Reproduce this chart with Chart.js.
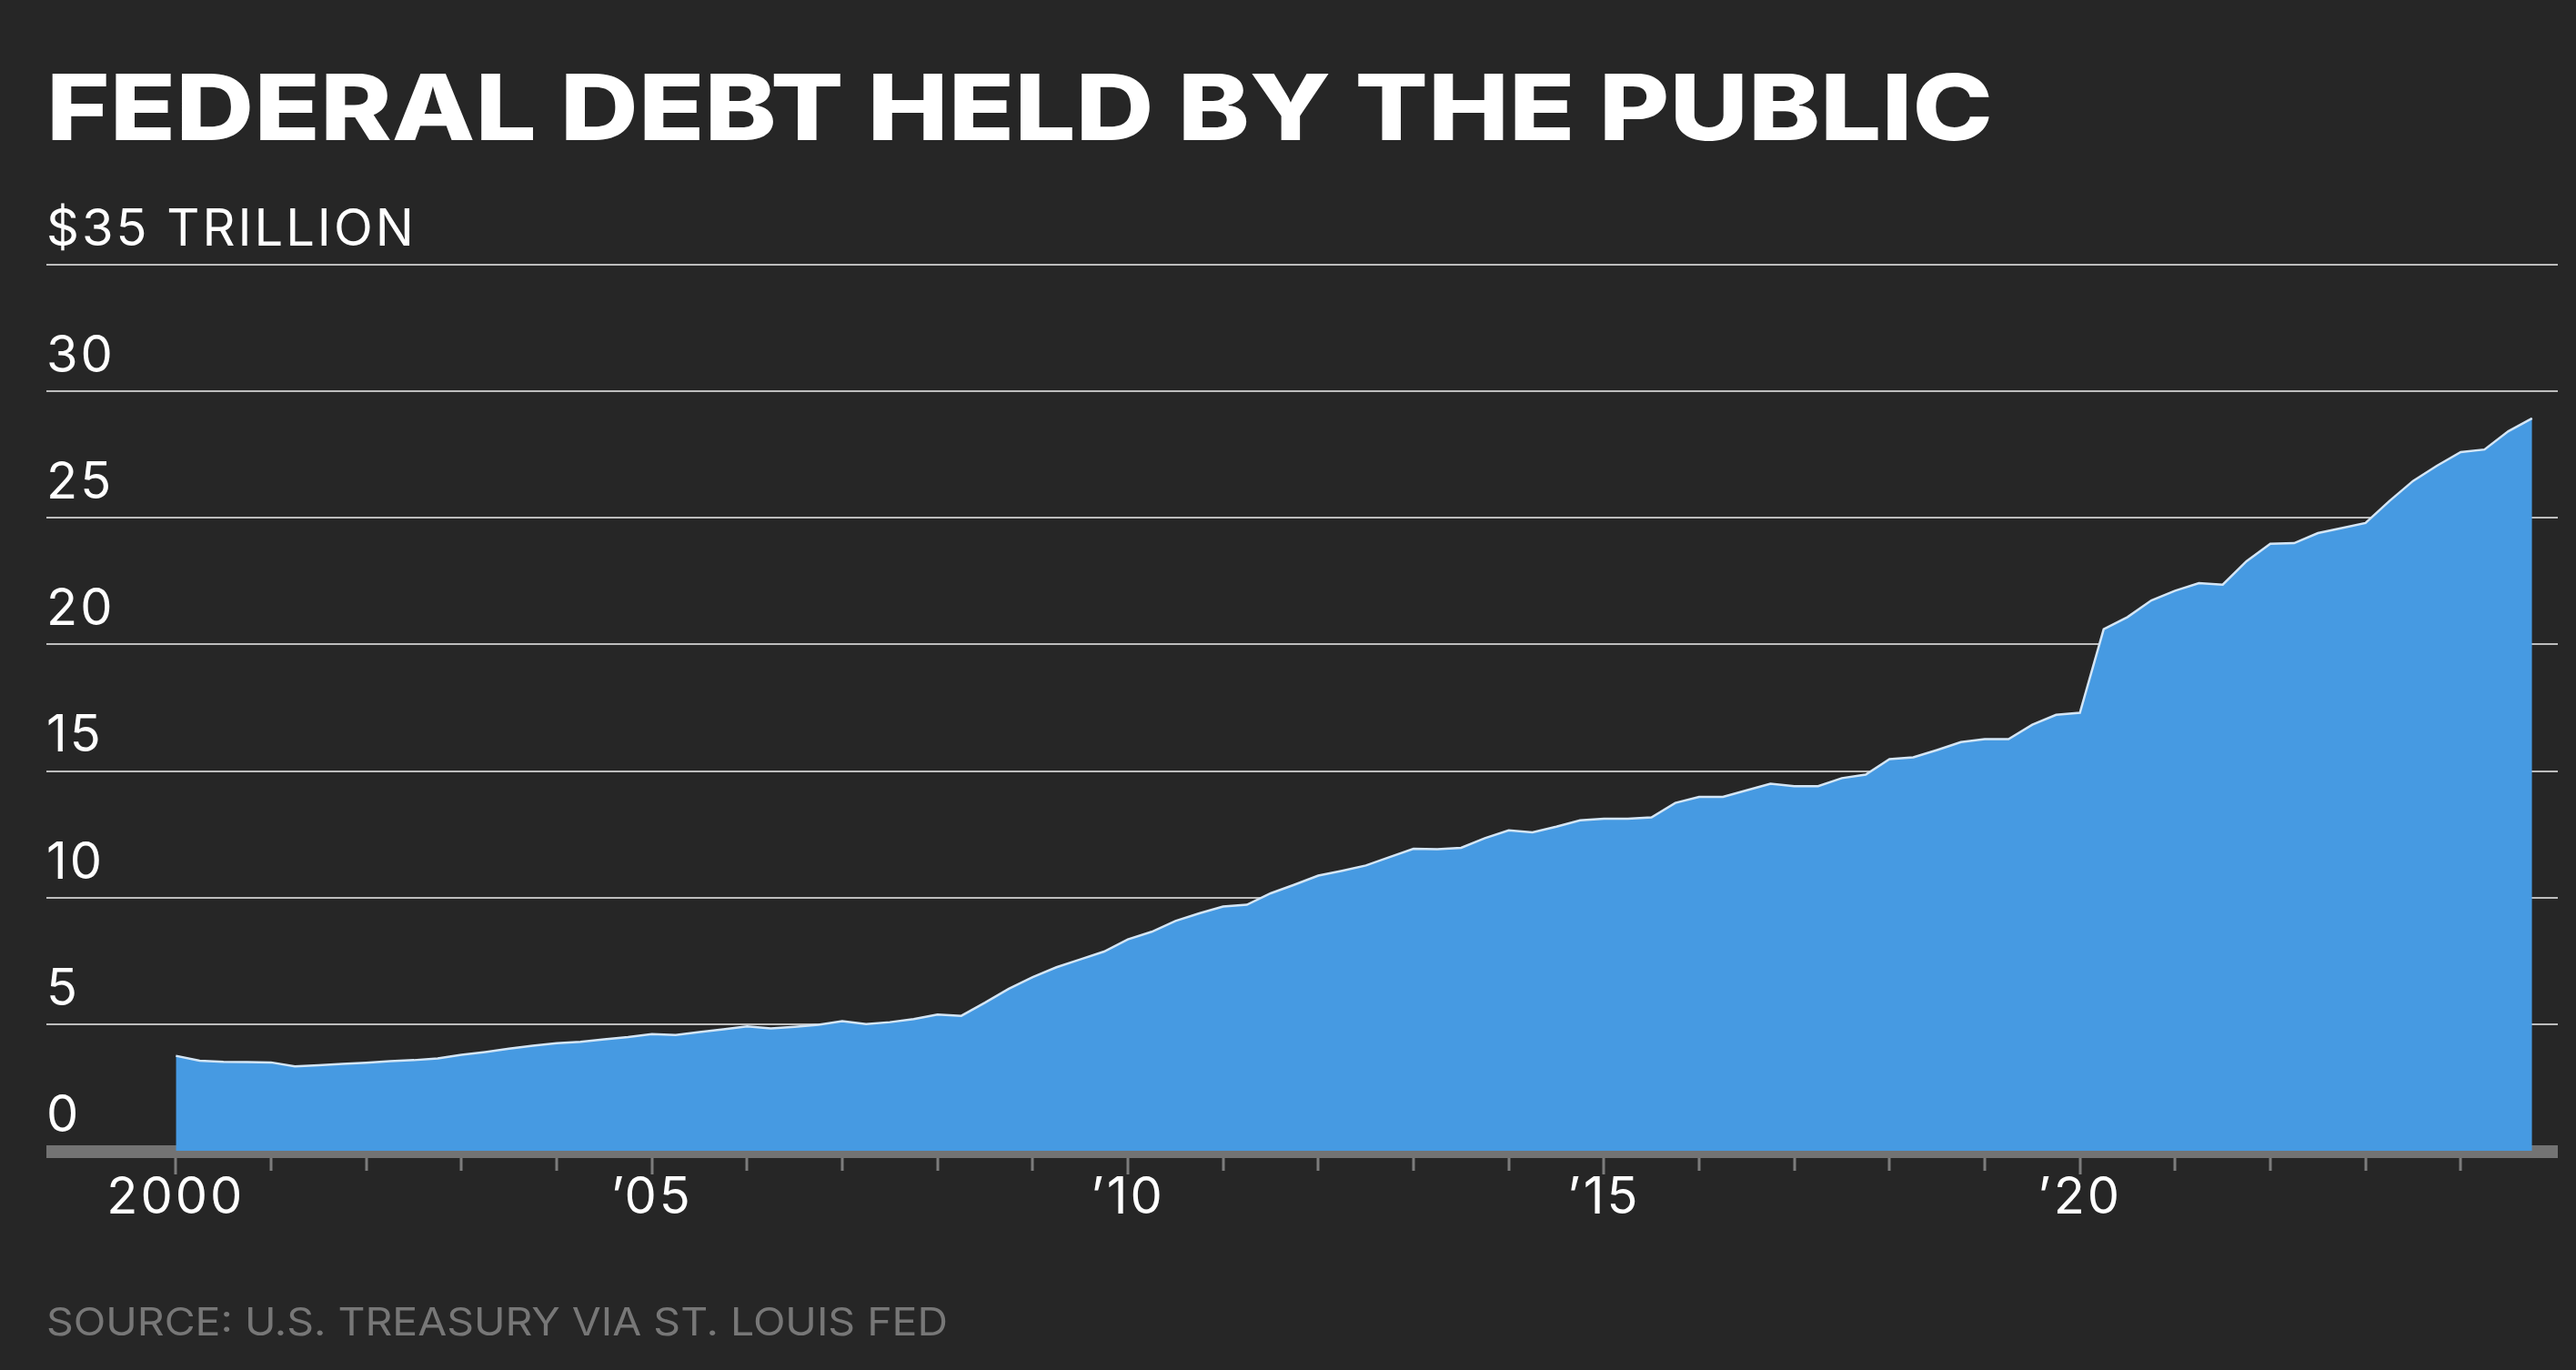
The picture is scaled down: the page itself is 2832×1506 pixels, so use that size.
<!DOCTYPE html>
<html>
<head>
<meta charset="utf-8">
<script src="https://cdn.jsdelivr.net/npm/chart.js@4.4.1/dist/chart.umd.min.js"></script>
<style>
    html, body { margin: 0; padding: 0; background: #262626; width: 2832px; height: 1506px; overflow: hidden; }
    #wrap { position: relative; width: 2832px; height: 1506px; }
    canvas { position: absolute; left: 0; top: 0; }
    .title { position: absolute; left: 51px; top: 68px; font-family: Inter, sans-serif; font-weight: 800; font-size: 100px; line-height: 1; color: #fff; white-space: nowrap; transform-origin: left top; }
    .source { position: absolute; left: 51px; top: 1432px; font-family: Inter, sans-serif; font-weight: 400; font-size: 42px; line-height: 1; color: #777; white-space: nowrap; transform-origin: left top; }
</style>
</head>
<body>
<div id="wrap">
    <canvas id="debtChart" width="2832" height="1506"></canvas>
    <div class="title" id="title">FEDERAL DEBT HELD BY THE PUBLIC</div>
    <div class="source" id="source">SOURCE: U.S. TREASURY VIA ST. LOUIS FED</div>
</div>
<script>
// quarterly, first quarter 2000 .. fourth quarter 2024, trillions of dollars
const firstYear = 2000;
const debtTrillions = [
    3.75, 3.56, 3.51, 3.50,   // 2000
    3.49, 3.33, 3.38, 3.43,   // 2001
    3.48, 3.54, 3.58, 3.65,   // 2002
    3.79, 3.90, 4.03, 4.15,   // 2003
    4.25, 4.30, 4.40, 4.49,   // 2004
    4.61, 4.57, 4.69, 4.80,   // 2005
    4.91, 4.83, 4.90, 4.98,   // 2006
    5.12, 5.00, 5.08, 5.20,   // 2007
    5.38, 5.33, 5.85, 6.40,   // 2008
    6.86, 7.25, 7.56, 7.87,   // 2009
    8.35, 8.65, 9.08, 9.38,   // 2010
    9.65, 9.72, 10.17, 10.51, // 2011
    10.87, 11.06, 11.27, 11.60, // 2012
    11.93, 11.91, 11.97, 12.35, // 2013
    12.66, 12.58, 12.80, 13.05, // 2014
    13.12, 13.12, 13.17, 13.74, // 2015
    13.98, 13.98, 14.24, 14.50, // 2016
    14.40, 14.40, 14.72, 14.86, // 2017
    15.47, 15.54, 15.83, 16.14, // 2018
    16.26, 16.26, 16.83, 17.22, // 2019
    17.30, 20.60, 21.08, 21.74, // 2020
    22.12, 22.42, 22.36, 23.29, // 2021
    23.98, 24.00, 24.40, 24.60, // 2022
    24.80, 25.66, 26.46, 27.06, // 2023
    27.60, 27.70, 28.42, 28.93  // 2024
];

const yTicks = [0, 5, 10, 15, 20, 25, 30, 35];
const tickYears = [2000, 2001, 2002, 2003, 2004, 2005, 2006, 2007, 2008, 2009, 2010, 2011, 2012,
    2013, 2014, 2015, 2016, 2017, 2018, 2019, 2020, 2021, 2022, 2023, 2024];
const labelYears = [2000, 2005, 2010, 2015, 2020];
const labelTexts = ['2000', '\u201905', '\u201910', '\u201915', '\u201920'];

const points = debtTrillions.map((v, i) => ({ x: firstYear + i / 4, y: v }));

// gray baseline band plus year tick marks under it
const axisBand = {
    id: 'axisBand',
    beforeUpdate(chart) { chart.ctx.letterSpacing = '3px'; },
    beforeDraw(chart) { chart.ctx.letterSpacing = '3px'; },
    beforeDatasetsDraw(chart) {
        const { ctx, chartArea, scales: { x, y } } = chart;
        const y0 = y.getPixelForValue(0);
        ctx.save();
        ctx.fillStyle = '#737373';
        ctx.fillRect(chartArea.left, y0 - 6, chartArea.right - chartArea.left, 14);
        ctx.strokeStyle = '#7c7c7c';
        ctx.lineWidth = 3;
        tickYears.forEach(yr => {
            const px = Math.round(x.getPixelForValue(yr));
            const len = yr % 5 === 0 ? 18 : 14;
            ctx.beginPath();
            ctx.moveTo(px, y0 + 8);
            ctx.lineTo(px, y0 + 8 + len);
            ctx.stroke();
        });
        ctx.restore();
    }
};

const labelFont = { family: 'Inter, sans-serif', size: 56, weight: '400' };

new Chart(document.getElementById('debtChart'), {
    type: 'line',
    data: {
        datasets: [{
            data: points,
            borderColor: '#d4e6f6',
            borderWidth: 2.5,
            backgroundColor: '#469ae2',
            fill: 'origin',
            tension: 0,
            pointRadius: 0
        }]
    },
    options: {
        responsive: false,
        animation: false,
        layout: { padding: { top: 291, left: 51, right: 20, bottom: 0 } },
        plugins: { legend: { display: false }, tooltip: { enabled: false } },
        scales: {
            x: {
                type: 'linear',
                min: 1998.64,
                max: 2025.02,
                afterBuildTicks: s => { s.ticks = tickYears.map(v => ({ value: v })); },
                afterFit: s => { s.height = 241; },
                grid: { display: false, drawTicks: false },
                border: { display: false },
                ticks: {
                    autoSkip: false,
                    maxRotation: 0,
                    padding: 19,
                    color: '#ffffff',
                    font: labelFont,
                    callback: v => {
                        const k = labelYears.indexOf(v);
                        return k >= 0 ? labelTexts[k] : '';
                    }
                }
            },
            y: {
                min: 0,
                max: 35,
                afterBuildTicks: s => { s.ticks = yTicks.map(v => ({ value: v })); },
                afterFit: s => { s.width = 0; },
                grid: { color: '#bdbdbd', lineWidth: 2, drawTicks: false },
                border: { display: false },
                ticks: {
                    mirror: true,
                    padding: 0,
                    labelOffset: -38,
                    color: '#ffffff',
                    font: labelFont,
                    callback: v => v === 35 ? '$35 TRILLION' : String(v)
                }
            }
        }
    },
    plugins: [axisBand]
});

// squeeze headline and source line to the reference widths
function fitWidth(id, target) {
    const el = document.getElementById(id);
    const w = el.getBoundingClientRect().width;
    el.style.transform = `scaleX(${target / w})`;
}
fitWidth('title', 2140);
fitWidth('source', 991);
</script>
</body>
</html>
